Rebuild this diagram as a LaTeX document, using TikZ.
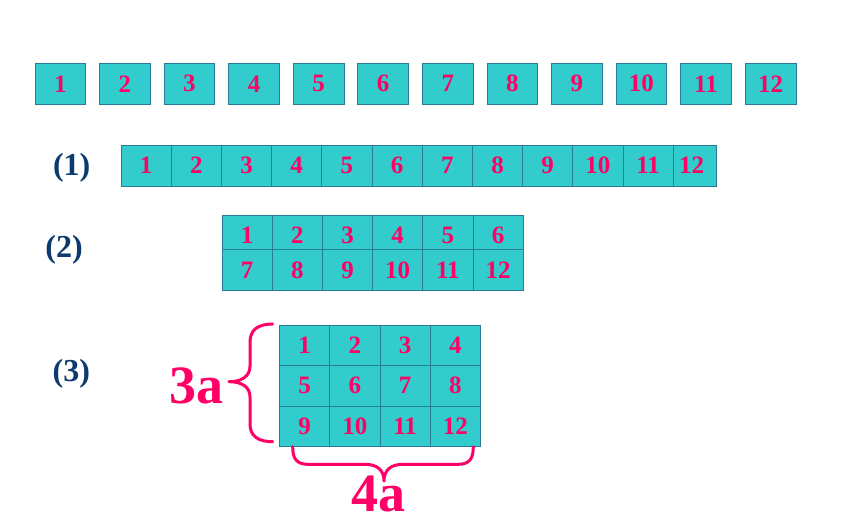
\documentclass[tikz,border=0pt]{standalone}
\usepackage{fontspec}
\setmainfont{Liberation Serif}
\usepackage{tikz}

\definecolor{tile}{HTML}{33CCCC}
\definecolor{tileline}{HTML}{2A7B98}
\definecolor{numpink}{HTML}{FF0066}
\definecolor{labblue}{HTML}{0B3B6E}

\tikzset{
  tilebox/.style={draw=tileline, fill=tile, line width=0.8pt, inner sep=0pt,
    minimum width=50.2pt, minimum height=41pt, text=numpink,
    font=\fontsize{25}{28}\selectfont\bfseries},
  partlab/.style={text=labblue, font=\fontsize{32}{36}\selectfont\bfseries},
  sidelab/.style={text=numpink, anchor=base, font=\fontsize{54}{60}\selectfont\bfseries},
  bracepath/.style={draw=numpink, line width=3pt, line cap=round, line join=round}
}

\begin{document}
\begin{tikzpicture}[x=1pt,y=-1pt]
  \useasboundingbox (0,0) rectangle (860,523);
    %Loose tiles
    \foreach \i in {1,...,12}
      \node[tilebox, minimum width=50.7pt] (t\i) at ({60.35+(\i-1)*64.57},83.8) {\i};

    %(1) one long row
    \node[partlab] (p1) at (71.7,168) {(1)};
    \node[tilebox, minimum width=50pt] (a12) at (691.7,165.5) {12};
    \foreach \i in {1,...,11}
      \node[tilebox] (a\i) at ({146.1+(\i-1)*50.2},165.5) {\i};

    %(2) two rows
    \node[partlab] (p2) at (64,250) {(2)};
    \foreach \i in {1,...,6}
      \node[tilebox] (b\i) at ({247.1+(\i-1)*50.2},235.5) {\i};
    \foreach \i in {7,...,12}
      \node[tilebox] (b\i) at ({247.1+(\i-7)*50.2},270) {\i};

    %(3) three rows
    \node[partlab] (p3) at (71.3,374) {(3)};
    \foreach \r in {0,1,2}
      \foreach \c in {1,...,4}{
        \pgfmathtruncatemacro\n{4*\r+\c}
        \node[tilebox, minimum width=50.3pt, minimum height=40.5pt] (c\n) at ({304.5+(\c-1)*50.3},{345.3+\r*40.5}) {\n};
      }

    %Braces
    \draw[bracepath] (272.7,324) .. controls (258,324) and (250,330) .. (250,342)
      -- (250,366) .. controls (250,376) and (242,381.7) .. (229,381.7)
      .. controls (242,381.7) and (250,387) .. (250,397)
      -- (250,424) .. controls (250,436) and (258,441.7) .. (272.7,441.7);
    \draw[bracepath] (292.7,446.7) .. controls (292.7,458) and (296,464.3) .. (308,464.3)
      -- (365,464.3) .. controls (377,464.3) and (384,470) .. (384,481)
      .. controls (384,470) and (391,464.3) .. (403,464.3)
      -- (458,464.3) .. controls (470,464.3) and (473.3,458) .. (473.3,446.7);
    \node[sidelab] (side) at (196,403) {3a};
    \node[sidelab] (base) at (378,511.7) {4a};

\end{tikzpicture}
\end{document}
